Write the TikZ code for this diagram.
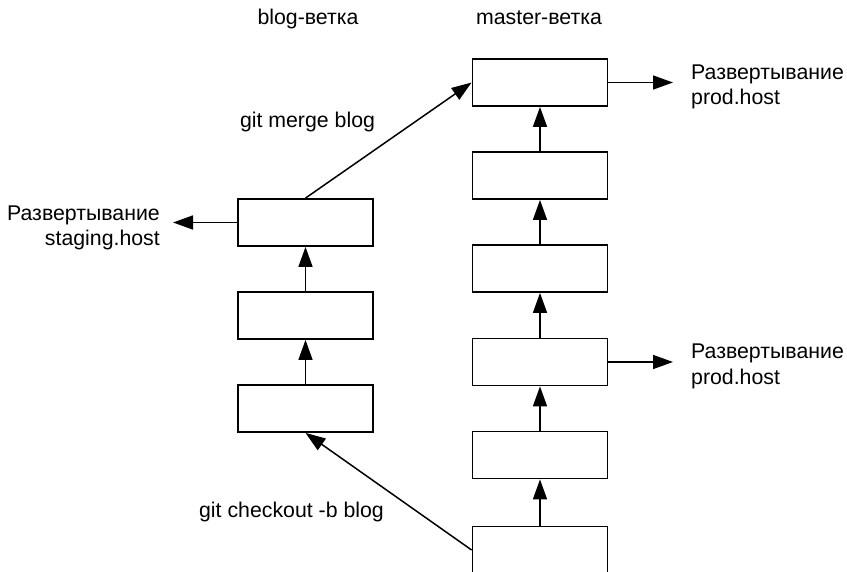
\documentclass[tikz,border=0pt]{standalone}
\usepackage{fontspec}
\setmainfont{Liberation Sans}
\usetikzlibrary{arrows.meta}
\begin{document}
\begin{tikzpicture}[x=1pt,y=-1pt,
  commit/.style={draw, line width=1.8pt, minimum width=135pt, minimum height=47pt, inner sep=0pt, fill=white},
  arr/.style={line width=1.5pt, -{Triangle[length=20pt,width=14pt]}},
  lbl/.style={inner sep=0pt, font=\fontsize{21.3}{25.7}\selectfont}
]
\useasboundingbox (0,0) rectangle (847,572);
% master branch
\node[commit] (m1) at (540,82.5) {};
\node[commit] (m2) at (540,175.5) {};
\node[commit] (m3) at (540,268.5) {};
\node[commit] (m4) at (540,362) {};
\node[commit] (m5) at (540,455) {};
\node[commit] (m6) at (540,550) {};
% blog branch
\node[commit] (b1) at (305.5,222.5) {};
\node[commit] (b2) at (305.5,315.5) {};
\node[commit] (b3) at (305.5,408.5) {};
% headers
\node[lbl, anchor=base] (hb) at (308,25) {blog-ветка};
\node[lbl, anchor=base] (hm) at (539,25) {master-ветка};
% labels
\node[lbl, anchor=base] (lmerge) at (307.5,128) {git merge blog};
\node[lbl, anchor=base] (lcheck) at (291.5,517) {git checkout -b blog};
\node[lbl, anchor=base west, align=left] (p1) at (691,105) {Развертывание\\prod.host};
\node[lbl, anchor=base west, align=left] (p2) at (691,384.5) {Развертывание\\prod.host};
\node[lbl, anchor=base east, align=right] (s1) at (160,246) {Развертывание\\staging.host};
% deploy arrow ends
\coordinate (e1) at (673,82.5);
\coordinate (e2) at (673,362);
\coordinate (e3) at (173,222.5);
% master chain
\draw[arr] (m6) -- (m5);
\draw[arr] (m5) -- (m4);
\draw[arr] (m4) -- (m3);
\draw[arr] (m3) -- (m2);
\draw[arr] (m2) -- (m1);
% blog chain
\draw[arr] (b3) -- (b2);
\draw[arr] (b2) -- (b1);
% branch / merge
\draw[arr] (m6.west) -- (b3.south);
\draw[arr] (b1.north) -- (m1.west);
% deploys
\draw[arr] (m1.east) -- (e1);
\draw[arr] (m4.east) -- (e2);
\draw[arr] (b1.west) -- (e3);
\end{tikzpicture}
\end{document}
